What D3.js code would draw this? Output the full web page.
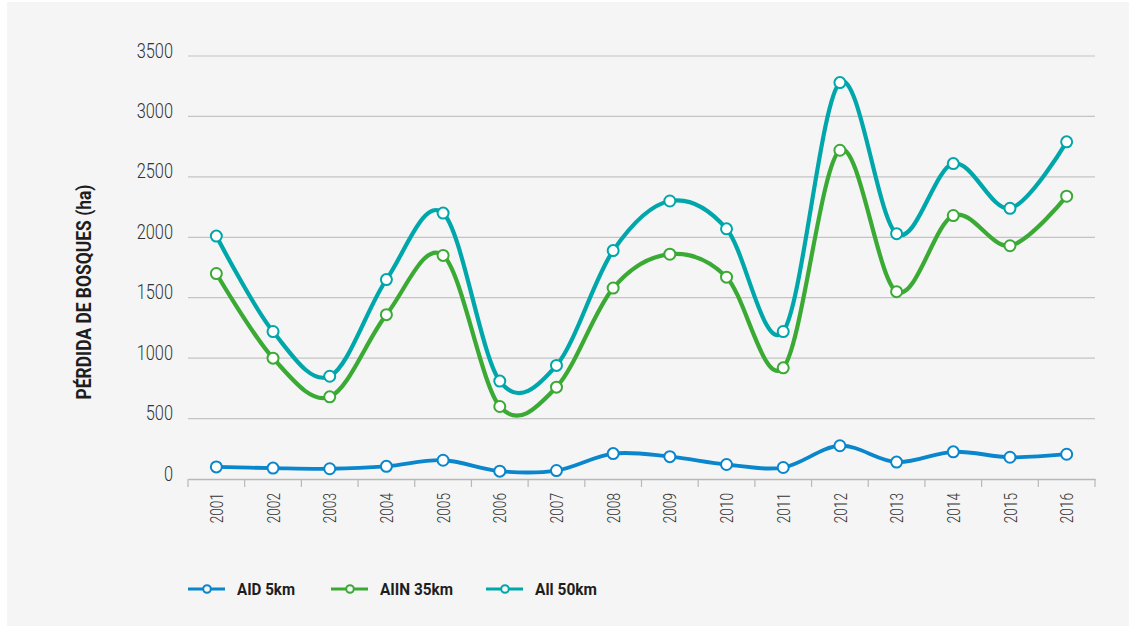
<!DOCTYPE html>
<html><head><meta charset="utf-8">
<script src="https://cdn.jsdelivr.net/npm/d3@7"></script>
<style>
html,body{margin:0;padding:0;background:#fff;}
text{font-family:Roboto,"DejaVu Sans",sans-serif;}
</style></head>
<body>
<svg id="chart" width="1136" height="633"></svg>
<script>
const years = ["2001","2002","2003","2004","2005","2006","2007","2008","2009","2010","2011","2012","2013","2014","2015","2016"];
const aid5 = [100,90,85,105,155,65,70,210,185,120,95,275,140,225,180,205];
const aiin35 = [1700,1000,680,1360,1850,600,760,1580,1860,1670,920,2720,1550,2180,1930,2340];
const aii50 = [2010,1220,850,1650,2200,810,940,1890,2300,2070,1220,3280,2030,2610,2240,2790];
const yTicks = [0,500,1000,1500,2000,2500,3000,3500];
const seriesNames = ["AID 5km","AIIN 35km","All 50km"];
const seriesColors = ["#0a86cc","#3aaa35","#00a7aa"];
const seriesData = [aid5, aiin35, aii50];

const svg = d3.select("#chart");
svg.append("rect").attr("x",7).attr("y",2).attr("width",1122).attr("height",624).attr("fill","#f5f5f5");

const x = d3.scaleBand().domain(years).range([188,1095]);
const y = d3.scaleLinear().domain([0,3500]).range([479,56]);

// gridlines
svg.append("g").selectAll("line").data(yTicks.filter(d=>d>0)).join("line")
  .attr("x1",188).attr("x2",1095).attr("y1",d=>y(d)).attr("y2",d=>y(d))
  .attr("stroke","#c4c4c4").attr("stroke-width",1.2);

// y labels
svg.append("g").selectAll("text").data(yTicks).join("text")
  .attr("transform",d=>`translate(173,${y(d)+1.5}) scale(0.78,1)`)
  .attr("text-anchor","end")
  .attr("font-size",21).attr("font-weight",300).attr("fill","#333").text(d=>d);

// x axis
const xAxis = d3.axisBottom(x).tickSize(0).tickFormat("");
const gx = svg.append("g").attr("transform","translate(0,479)").call(xAxis);
gx.select(".domain").attr("stroke","#b8b8b8").attr("stroke-width",1.5);
const bounds = years.map(d=>x(d)).concat([x.range()[1]]);
svg.append("g").selectAll("line").data(bounds).join("line")
  .attr("x1",d=>d).attr("x2",d=>d).attr("y1",479).attr("y2",487)
  .attr("stroke","#b8b8b8").attr("stroke-width",1.2);
svg.append("g").selectAll("text").data(years).join("text")
  .attr("transform",d=>`translate(${x(d)+x.bandwidth()/2},493) rotate(-90) scale(0.72,1)`)
  .attr("text-anchor","end").attr("dy","0.35em")
  .attr("font-size",19).attr("font-weight",300).attr("fill","#333").text(d=>d);

// y title
svg.append("text").attr("transform","translate(84,292) rotate(-90)")
  .attr("text-anchor","middle").attr("dy","0.35em")
  .attr("font-size",21).attr("font-weight","bold").attr("fill","#1e1e1e")
  .attr("textLength",215).attr("lengthAdjust","spacingAndGlyphs")
  .text("PÉRDIDA DE BOSQUES (ha)");

const line = d3.line().x((d,i)=>x(years[i])+x.bandwidth()/2).y(d=>y(d)).curve(d3.curveCardinal.tension(0));

seriesData.forEach((data,k)=>{
  const g = svg.append("g");
  g.append("path").attr("d",line(data)).attr("fill","none")
    .attr("stroke",seriesColors[k]).attr("stroke-width",k===0?3.8:4.2);
  g.selectAll("circle").data(data).join("circle")
    .attr("cx",(d,i)=>x(years[i])+x.bandwidth()/2).attr("cy",d=>y(d)).attr("r",5.5)
    .attr("fill","#fff").attr("stroke",seriesColors[k]).attr("stroke-width",2);
});

// legend
const legX = [188,331,486];
const legW = [58,73,62];
seriesNames.forEach((n,k)=>{
  const g = svg.append("g").attr("transform",`translate(${legX[k]},589)`);
  g.append("line").attr("x1",0).attr("x2",37).attr("y1",0).attr("y2",0)
    .attr("stroke",seriesColors[k]).attr("stroke-width",3);
  g.append("circle").attr("cx",19).attr("cy",0).attr("r",3.8).attr("fill","#f5f5f5")
    .attr("stroke",seriesColors[k]).attr("stroke-width",2);
  g.append("text").attr("x",49).attr("y",0).attr("dy","0.36em")
    .attr("font-size",17).attr("font-weight","bold").attr("fill","#1e1e1e")
    .attr("textLength",legW[k]).attr("lengthAdjust","spacingAndGlyphs").text(n);
});
</script>
</body></html>
